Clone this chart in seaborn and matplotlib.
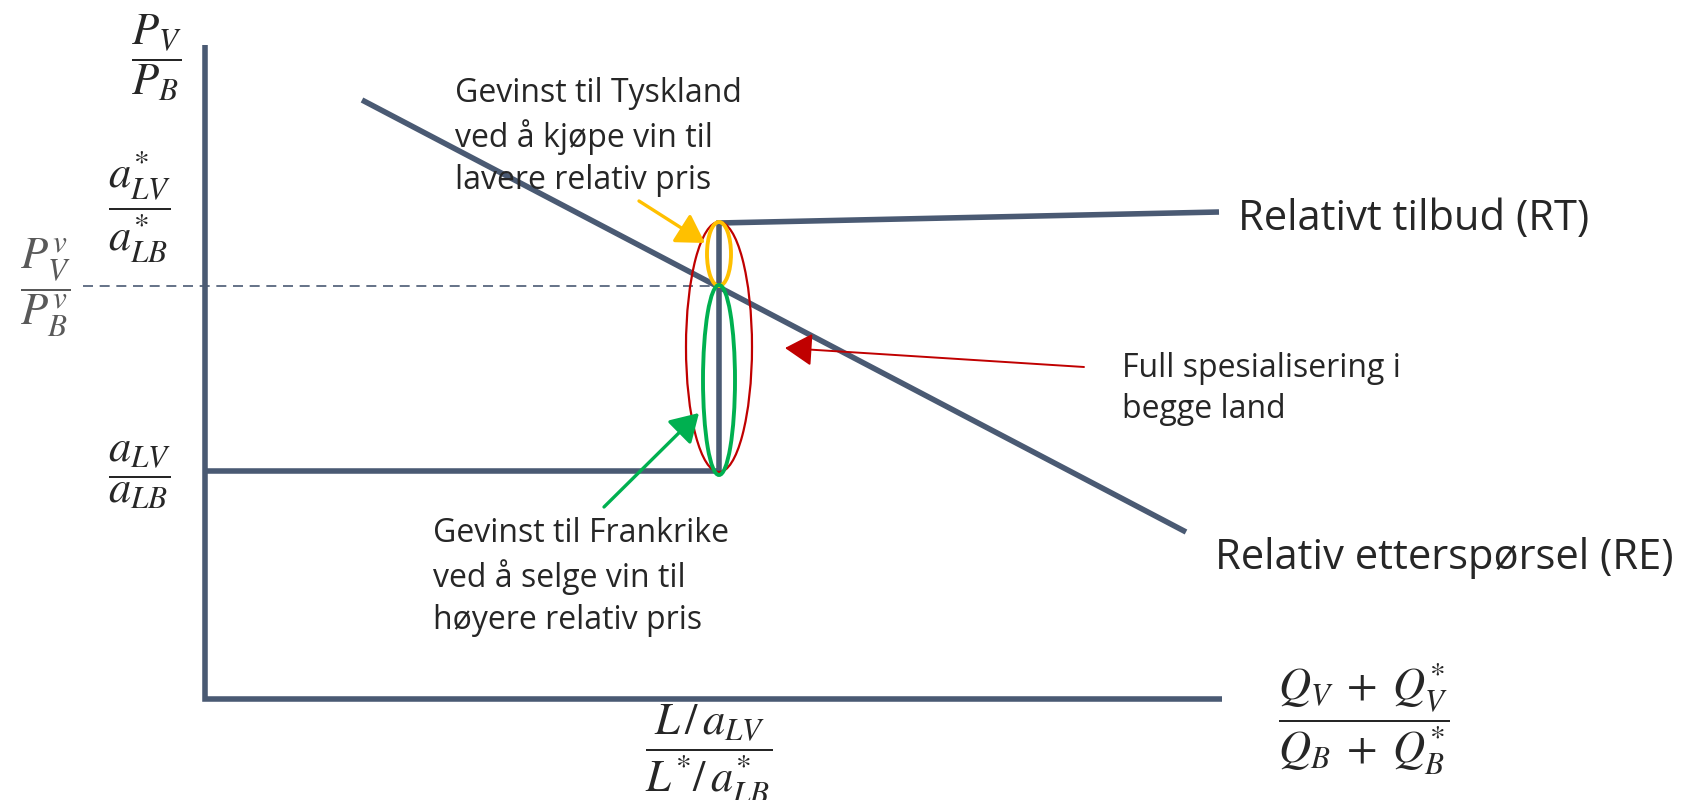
import numpy as np
import pandas as pd
import matplotlib
matplotlib.use("Agg")
import matplotlib.pyplot as plt
from matplotlib.patches import Ellipse
import seaborn as sns

# Diagram data (x = relative quantity, y = relative price; origin at axes corner)
axis_x = [0.0, 0.0, 10.17]
axis_y = [6.54, 0.0, 0.0]

rt_x = [0.0, 5.14, 5.14, 10.14]      # relativt tilbud
rt_y = [2.28, 2.28, 4.76, 4.87]

re_x = [1.57, 9.81]                  # relativ etterspørsel
re_y = [5.99, 1.67]

price_eq = 4.13                      # P_V^v / P_B^v
dash_x = [-1.22, 5.14]

# ellipses: (centre x, centre y, width, height)
ell_red = (5.14, 3.52, 0.66, 2.50)
ell_orange = (5.14, 4.45, 0.24, 0.64)
ell_green = (5.14, 3.19, 0.32, 1.90)

# arrows: (tail, head)
arr_orange = ((4.34, 4.98), (5.00, 4.56))
arr_green = ((3.99, 1.92), (4.94, 2.86))
arr_red = ((8.79, 3.32), (5.80, 3.51))

slate = "#4a5a73"
red = "#c00000"
orange = "#ffc000"
green = "#00b050"
txt = "#262626"

sns.set_style("white")
plt.rcParams["font.family"] = ["Open Sans", "DejaVu Sans"]
plt.rcParams["mathtext.fontset"] = "stix"

fig = plt.figure(figsize=(16.91, 8), dpi=100)
ax = fig.add_axes([0, 0, 1, 1])
ax.set_xlim(-2.05, 14.86)
ax.set_ylim(-1.01, 6.99)
ax.axis("off")

def seg(x, y, **kw):
    df = pd.DataFrame({"x": x, "y": y})
    sns.lineplot(data=df, x="x", y="y", sort=False, estimator=None, ax=ax, **kw)

# axes, curves and dashed price line
seg(axis_x, axis_y, color=slate, lw=4, solid_capstyle="butt", solid_joinstyle="miter")
seg(rt_x, rt_y, color=slate, lw=4, solid_capstyle="butt", solid_joinstyle="miter")
seg(re_x, re_y, color=slate, lw=4, solid_capstyle="butt")
seg(dash_x, [price_eq, price_eq], color=slate, lw=1.2, linestyle=(0, (6, 4)))

# ellipses
for (cx, cy, w, h), col, lw in [(ell_red, red, 1.6), (ell_orange, orange, 2.8), (ell_green, green, 2.8)]:
    ax.add_patch(Ellipse((cx, cy), w, h, fill=False, edgecolor=col, lw=lw, zorder=5))

# arrows
for (tail, head), col in [(arr_orange, orange), (arr_green, green), (arr_red, red)]:
    ax.annotate("", xy=head, xytext=tail,
                arrowprops=dict(arrowstyle="-|>,head_length=0.5,head_width=0.3", color=col,
                                lw=2.4 if col != red else 1.4,
                                mutation_scale=34, shrinkA=0, shrinkB=0), zorder=6)

# annotation texts
note_kw = dict(fontsize=23, color=txt, va="center", ha="left", linespacing=1.33)
ax.text(2.50, 5.62, "Gevinst til Tyskland\nved å kjøpe vin til\nlavere relativ pris", **note_kw)
ax.text(2.28, 1.22, "Gevinst til Frankrike\nved å selge vin til\nhøyere relativ pris", **note_kw)
ax.text(9.17, 3.10, "Full spesialisering i\nbegge land", **note_kw)
ax.text(10.33, 4.80, "Relativt tilbud (RT)", fontsize=30, color=txt, va="center", ha="left")
ax.text(10.10, 1.41, "Relativ etterspørsel (RE)", fontsize=30, color=txt, va="center", ha="left")

# math labels
mkw = dict(fontsize=32, ha="center", va="center")
ax.text(-0.49, 6.41, r"$\dfrac{P_V}{P_B}$", color=txt, **mkw)
ax.text(-0.65, 4.92, r"$\dfrac{a_{LV}^{*}}{a_{LB}^{*}}$", color=txt, **mkw)
ax.text(-1.60, 4.11, r"$\dfrac{P_V^{v}}{P_B^{v}}$", color="#595959", **mkw)
ax.text(-0.65, 2.24, r"$\dfrac{a_{LV}}{a_{LB}}$", color=txt, **mkw)
ax.text(5.04, -0.55, r"$\dfrac{L\,/\,a_{LV}}{L^{*}/\,a_{LB}^{*}}$", color=txt, **mkw)
ax.text(11.59, -0.20, r"$\dfrac{Q_V\;+\;Q_V^{*}}{Q_B\;+\;Q_B^{*}}$", color=txt, **mkw)

fig.savefig("out.png", dpi=100)
plt.close(fig)
